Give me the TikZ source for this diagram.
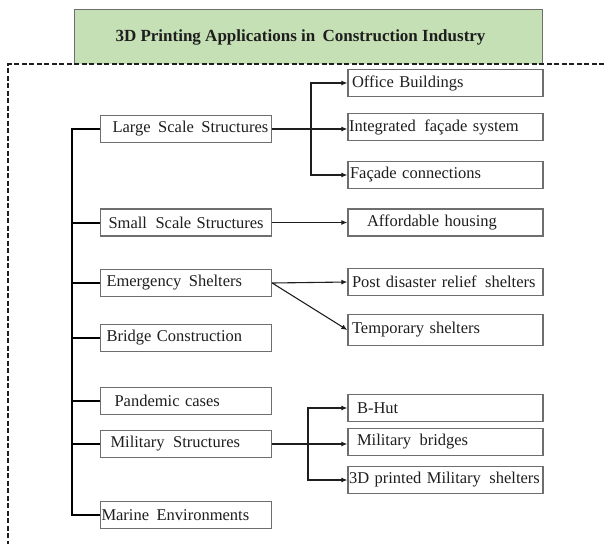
\documentclass[tikz,border=0pt]{standalone}
\usepackage{fontspec}
\setmainfont{Liberation Serif}
\usepackage{tikz}
\usepackage{xcolor}
\usetikzlibrary{arrows.meta}
\definecolor{Leaf}{RGB}{197, 224, 180}
\definecolor{Frame}{RGB}{110, 110, 110}
\definecolor{Ink}{RGB}{30, 30, 30}

\tikzset{
    topic/.style={draw=Frame, line width=1.3pt, fill=white, text=Ink,
        minimum width=171pt, minimum height=27pt, inner xsep=0pt,
        text width=171pt, align=left, font=\fontsize{16.5pt}{18pt}\selectfont},
    item/.style={topic, minimum width=195pt, text width=195pt},
    spine/.style={line width=2pt, black},
    link/.style={line width=1.1pt, Ink, -{Latex[length=6pt,width=5pt]}}
}

\begin{document}
\begin{tikzpicture}[x=1pt,y=-1pt]
    \useasboundingbox (0,0) rectangle (604,544);

    % heading
    \node[fill=Leaf, minimum width=468pt, minimum height=54pt, inner sep=0pt,
        font=\fontsize{17pt}{19pt}\selectfont\bfseries, text=Ink] (title) at (308.5,37)
        {3D Printing Applications in \kern3pt Construction Industry\kern16pt};
    \draw[Frame, line width=1.3pt] (title.south west) -- (title.north west)
        -- (title.north east) -- (title.south east);
    \draw[Ink, line width=1.3pt, dash pattern=on 5pt off 2.5pt] (604,64) -- (8,64) -- (8,544);

    % main branches
    \node[topic] (large)  at (186,129)   {\hspace*{12pt}Large \kern2pt Scale \kern2pt Structures};
    \node[topic] (small)  at (186,222.5) {\hspace*{8pt}Small \kern3pt Scale Structures};
    \node[topic] (emerg)  at (186,283)   {\hspace*{6pt}Emergency \kern2pt Shelters};
    \node[topic] (bridge) at (186,338)   {\hspace*{6pt}Bridge Construction};
    \node[topic] (pandem) at (186,401)   {\hspace*{14pt}Pandemic cases};
    \node[topic] (milit)  at (186,444)   {\hspace*{10pt}Military \kern3pt Structures};
    \node[topic] (marine) at (186,515)   {\hspace*{1pt}Marine \kern2pt Environments};

    % sub items
    \node[item] (office) at (445.5,83)    {\hspace*{4pt}Office Buildings};
    \node[item] (facsys) at (445.5,127)   {\hspace*{1pt}Integrated \kern3pt façade system};
    \node[item] (faccon) at (445.5,175)   {\hspace*{2pt}Façade connections};
    \node[item] (afford) at (445.5,222.5) {\hspace*{19pt}Affordable housing};
    \node[item] (relief) at (445.5,282)   {\hspace*{4pt}Post disaster relief \kern3pt shelters};
    \node[item, minimum height=31pt] (tempsh) at (445.5,330) {\hspace*{4pt}Temporary shelters};
    \node[item] (bhut)   at (445.5,408)   {\hspace*{9pt}B-Hut};
    \node[item] (milbr)  at (445.5,442)   {\hspace*{9pt}Military \kern3pt bridges};
    \node[item] (milsh)  at (445.5,480)   {\hspace*{1pt}3D printed Military \kern3pt shelters};

    % spine on the left
    \coordinate (trunk) at (72,0);
    \draw[spine] (large.west) -- (large.west -| trunk) -- (marine.west -| trunk) -- (marine.west);
    \foreach \b in {small,emerg,bridge,pandem,milit}
        \draw[spine] (\b.west) -- (\b.west -| trunk);

    % large scale structures
    \coordinate (lsplit) at (311,0);
    \draw[link] (large.east) -- (large.east -| facsys.west);
    \draw[link] (lsplit |- large.east) |- (office.west);
    \draw[link] (lsplit |- large.east) |- (faccon.west);

    % small scale structures
    \draw[link] (small.east) -- (afford.west);

    % emergency shelters
    \draw[link] (emerg.east) -- (relief.west);
    \draw[link] (emerg.east) -- (tempsh.west);

    % military structures
    \coordinate (msplit) at (308,0);
    \draw[link, line width=1.6pt] (milit.east) -- (milit.east -| milbr.west);
    \draw[link] (msplit |- milit.east) |- (bhut.west);
    \draw[link] (msplit |- milit.east) |- (milsh.west);
\end{tikzpicture}
\end{document}
